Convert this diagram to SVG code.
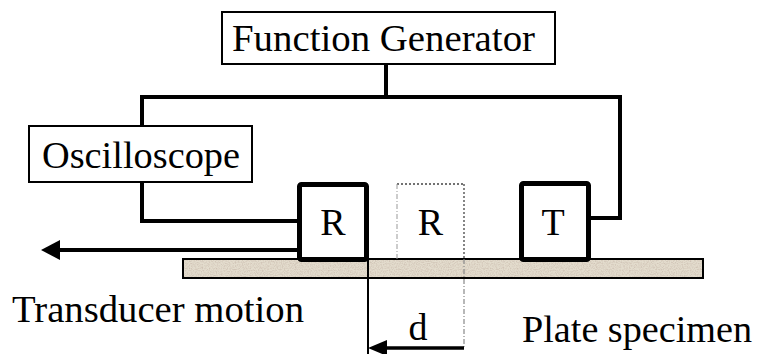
<svg xmlns="http://www.w3.org/2000/svg" width="757" height="354" viewBox="0 0 757 354">
  <style>
    .lbl { font-family: "Liberation Serif", "Times New Roman", serif; font-size: 38px; fill: #000; }
    .box { fill: #fff; stroke: #000; stroke-width: 2; }
    .probe { fill: #fff; stroke: #000; stroke-width: 5; }
    .wire { fill: none; stroke: #000; stroke-width: 4; stroke-linejoin: miter; }
  </style>
  <defs>
    <filter id="grain" x="0" y="0" width="100%" height="100%">
      <feTurbulence type="fractalNoise" baseFrequency="0.85" numOctaves="2" seed="3" result="n"/>
      <feColorMatrix in="n" type="matrix" values="0 0 0 0 0.55  0 0 0 0 0.45  0 0 0 0 0.38  0 0 0 -2.2 1.35" result="speck"/>
      <feComposite in="speck" in2="SourceGraphic" operator="in"/>
    </filter>
  </defs>

  <rect width="757" height="354" fill="#fff"/>

  <!-- plate specimen -->
  <g id="plate">
    <rect x="183" y="259" width="520" height="19" fill="#e3dccd"/>
    <rect x="183" y="259" width="520" height="19" fill="#e3dccd" filter="url(#grain)" opacity="0.6"/>
    <rect x="183" y="259" width="520" height="19" fill="none" stroke="#000" stroke-width="2"/>
  </g>

  <!-- wiring and motion arrows -->
  <g id="connectors">
    <polyline class="wire" points="142,126 142,97 620,97 620,218 591,218"/>
    <line class="wire" x1="386" y1="64" x2="386" y2="97"/>
    <polyline class="wire" points="142,182 142,221 297,221"/>
    <line x1="297" y1="250" x2="56" y2="250" stroke="#000" stroke-width="4"/>
    <polygon points="41,250 60,240 60,260" fill="#000"/>
    <line x1="368" y1="259" x2="368" y2="354" stroke="#000" stroke-width="2"/>
    <line x1="464" y1="259" x2="464" y2="348" stroke="#888" stroke-width="1.2" stroke-dasharray="5,2,1,2"/>
    <line x1="464" y1="348" x2="382" y2="348" stroke="#000" stroke-width="3.5"/>
    <polygon points="368,348 387,340 387,356" fill="#000"/>
  </g>

  <g id="function-generator">
    <rect class="box" x="222" y="12" width="333" height="52"/>
    <text class="lbl" x="232" y="51" textLength="303" lengthAdjust="spacingAndGlyphs">Function Generator</text>
  </g>

  <g id="oscilloscope">
    <rect class="box" x="29" y="126" width="223" height="56"/>
    <text class="lbl" x="42" y="168" textLength="198" lengthAdjust="spacingAndGlyphs">Oscilloscope</text>
  </g>

  <g id="receiver">
    <rect class="probe" x="299.5" y="184.5" width="67" height="75" rx="2"/>
    <text class="lbl" x="333" y="235" text-anchor="middle">R</text>
  </g>

  <g id="receiver-moved">
    <line x1="397" y1="184" x2="464" y2="184" stroke="#444" stroke-width="1.3" stroke-dasharray="2,2"/>
    <line x1="464" y1="184" x2="464" y2="259" stroke="#444" stroke-width="1.3" stroke-dasharray="2,2"/>
    <line x1="397" y1="184" x2="397" y2="259" stroke="#999" stroke-width="1" stroke-dasharray="5,2,1,2"/>
    <text class="lbl" x="430.5" y="235" text-anchor="middle">R</text>
  </g>

  <g id="transmitter">
    <rect class="probe" x="521.5" y="183.5" width="67" height="76" rx="2"/>
    <text class="lbl" x="553" y="235" text-anchor="middle">T</text>
  </g>

  <g id="labels">
    <text class="lbl" x="12" y="322" textLength="292" lengthAdjust="spacingAndGlyphs">Transducer motion</text>
    <text class="lbl" x="522" y="342" textLength="230" lengthAdjust="spacingAndGlyphs">Plate specimen</text>
    <text class="lbl" x="418" y="340" text-anchor="middle">d</text>
  </g>
</svg>
